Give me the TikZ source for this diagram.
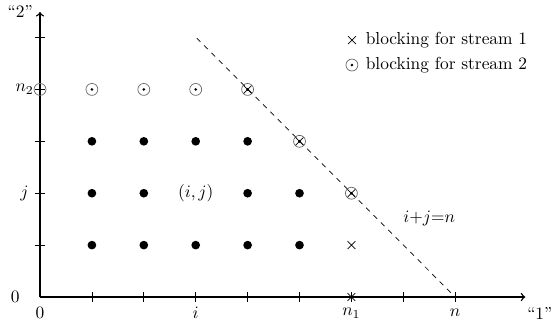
\documentclass[tikz,border=0pt]{standalone}
\usetikzlibrary{arrows}
\tikzset{
  axis/.style={thick,->},
  tick/.style={thin},
  pt/.style={circle,fill=black,inner sep=0pt,minimum size=5pt},
  lab/.style={inner sep=1pt},
  blk2/.style={draw=black!60,thin},
  blk1/.style={thin},
}
\newcommand{\mycirc}[1]{\draw[blk2] #1 circle (0.115); \fill #1 circle (0.028);}
\newcommand{\mycross}[1]{\draw[blk1] #1 ++(-0.075,-0.075) -- ++(0.15,0.15) #1 ++(-0.075,0.075) -- ++(0.15,-0.15);}
\begin{document}
\begin{tikzpicture}[x=1.05cm,y=1.05cm]
\useasboundingbox (-0.771,-0.501) rectangle (9.923,5.723);
\coordinate (O) at (0,0);
\coordinate (xe) at (9.35,0);
\coordinate (ye) at (0,5.49);
\draw[axis] (O) -- (xe);
\draw[axis] (O) -- (ye);
\foreach \k in {1,...,8} \draw[tick] (\k,-0.1) -- (\k,0.1);
\foreach \k in {1,...,5} \draw[tick] (-0.1,\k) -- (0.1,\k);
% labels
\node[lab] (x0) at (0,-0.31) {$0$};
\node[lab] (xi) at (3,-0.31) {$i$};
\node[lab] (xn1) at (6,-0.31) {$n_1$};
\node[lab] (xn) at (8,-0.31) {$n$};
\node[lab] (x1) at (9.63,-0.31) {``1''};
\node[lab] (y0) at (-0.48,0) {$0$};
\node[lab] (yj) at (-0.3,2) {$j$};
\node[lab,anchor=east] (yn2) at (-0.08,4) {$n_2$};
\node[lab] (y2) at (-0.38,5.5) {``2''};
% dots
\foreach \a/\b in {1/1,2/1,3/1,4/1,5/1,1/2,2/2,4/2,5/2,1/3,2/3,3/3,4/3}
  \node[pt] (p\a\b) at (\a,\b) {};
\node (ij) at (3,2) {$(i,j)$};
% dashed line
\coordinate (d1) at (3.02,4.99);
\coordinate (d2) at (8,0);
\draw[dashed] (d1) -- (d2);
\node (eq) at (7.5,1.52) {$i{+}j{=}n$};
% blocking marks
\foreach \a/\b in {0/4,1/4,2/4,3/4,4/4,5/3,6/2} {\mycirc{(\a,\b)}}
\foreach \a/\b in {4/4,5/3,6/2,6/1,6/0} {\mycross{(\a,\b)}}
% legend
\mycross{(6.01,4.95)}
\node[anchor=west,inner sep=0pt] (l1) at (6.27,4.95) {blocking for stream 1};
\mycirc{(6.01,4.47)}
\node[anchor=west,inner sep=0pt] (l2) at (6.27,4.47) {blocking for stream 2};
\end{tikzpicture}
\end{document}
